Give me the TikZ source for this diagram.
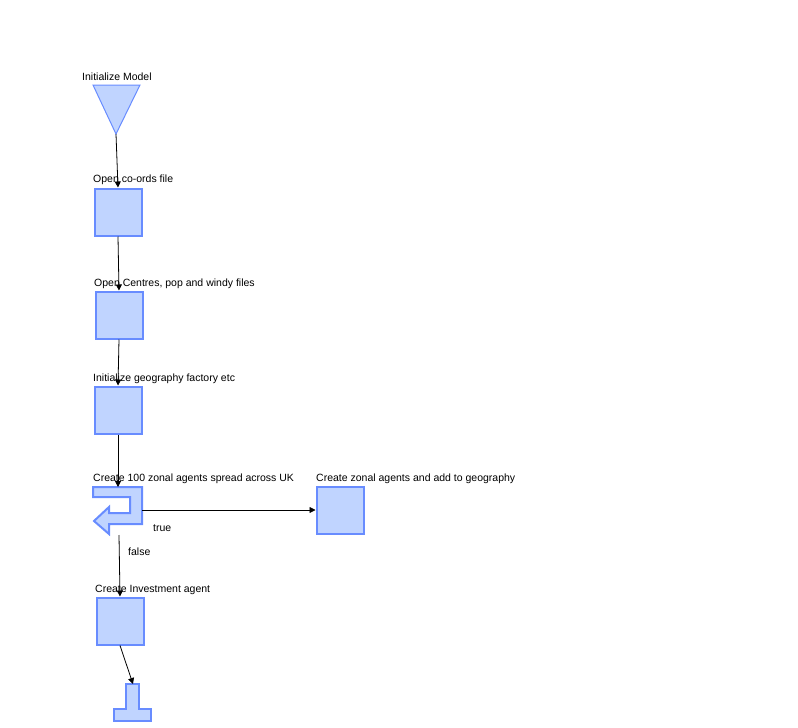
\documentclass[tikz,border=0pt]{standalone}
\usepackage{fontspec}
\setmainfont{Liberation Sans}
\usetikzlibrary{arrows.meta}
\definecolor{shfill}{RGB}{192,212,255}
\definecolor{shdraw}{RGB}{104,140,255}
\tikzset{
  stepbox/.style={draw=shdraw,fill=shfill,line width=2pt,minimum width=47pt,minimum height=47pt,inner sep=0pt},
  shapeln/.style={draw=shdraw,fill=shfill,line width=2pt,line join=miter},
  lbl/.style={anchor=base west,inner sep=0pt,font=\fontsize{10.5}{12}\selectfont},
  arr/.style={draw=black,line width=0.8pt,-{Triangle[width=6pt,length=6pt]}},
  ln/.style={draw=black,line width=0.8pt}
}
\begin{document}
\begin{tikzpicture}[x=1pt,y=-1pt]
\useasboundingbox (0,0) rectangle (798,728);
% start triangle
\path[draw=shdraw,fill=shfill,line width=1pt] (93,85) -- (140,85) -- (116,134) -- cycle;
\coordinate (tri) at (116,134);
\node[lbl] (tl) at (82,80) {Initialize Model};
% boxes
\node[stepbox] (b1) at (118,212) {};
\node[lbl] (l1) at (93,182) {Open co-ords file};
\node[stepbox] (b2) at (119,315) {};
\node[lbl] (l2) at (94,286) {Open Centres, pop and windy files};
\node[stepbox] (b3) at (118,410) {};
\node[lbl] (l3) at (93,381) {Initialize geography factory etc};
% loop shape
\path[shapeln] (93,487) -- (142,487) -- (142,524) -- (109,524) -- (109,534) -- (94,521) -- (109,507) -- (109,513) -- (130,513) -- (130,497) -- (93,497) -- cycle;
\coordinate (looptop) at (118,487);
\coordinate (loopright) at (142,510);
\coordinate (loopbot) at (119,535);
\node[lbl] (l4) at (93,481) {Create 100 zonal agents spread across UK};
% zone box
\node[stepbox] (bz) at (340,510) {};
\node[lbl] (lz) at (316,481) {Create zonal agents and add to geography};
% investment box
\node[stepbox] (b5) at (120,621) {};
\node[lbl] (l5) at (95,592) {Create Investment agent};
% terminal
\path[shapeln] (126,684) -- (139,684) -- (139,709) -- (151,709) -- (151,721) -- (114,721) -- (114,709) -- (126,709) -- cycle;
\coordinate (term) at (133,684);
% connectors
\draw[arr] (tri) -- (b1.north);
\draw[arr] (b1.south) -- (b2.north);
\draw[arr] (b2.south) -- (b3.north);
\draw[arr] (b3.south) -- (looptop);
\draw[arr] (loopright) -- (bz.west);
\draw[arr] (loopbot) -- (b5.north);
\draw[arr] (b5.south) -- (term);
\node[lbl] (ltrue) at (153,531) {true};
\node[lbl] (lfalse) at (128,555) {false};
\end{tikzpicture}
\end{document}
